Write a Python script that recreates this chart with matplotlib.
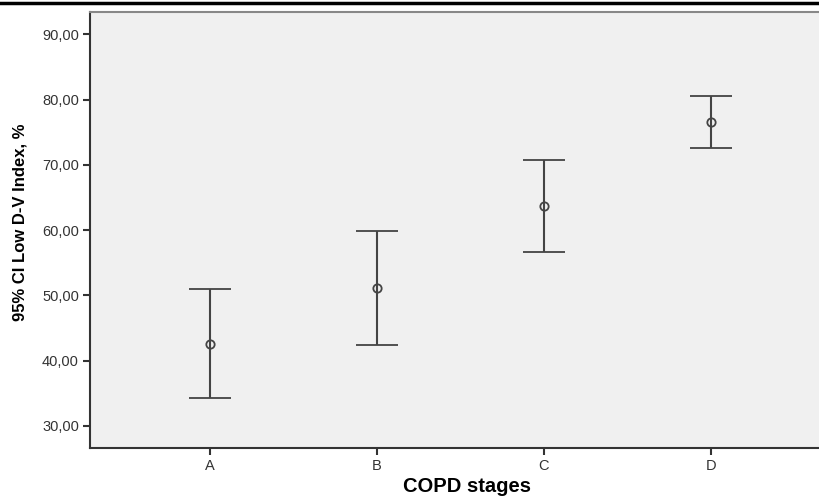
import matplotlib
matplotlib.use("Agg")
import matplotlib.pyplot as plt
from matplotlib.lines import Line2D
from matplotlib.ticker import FuncFormatter

categories = ["A", "B", "C", "D"]
means = [42.6, 51.1, 63.7, 76.5]
lower = [34.3, 42.4, 56.6, 72.5]
upper = [50.9, 59.8, 70.8, 80.5]
yticks = [30, 40, 50, 60, 70, 80, 90]

fig = plt.figure(figsize=(8.19, 4.97), dpi=100)
ax = fig.add_axes([0.110, 0.0986, 0.92, 0.877])
ax.set_facecolor("#f0f0f0")

x = list(range(len(categories)))
err_lo = [m - l for m, l in zip(means, lower)]
err_hi = [u - m for u, m in zip(upper, means)]
ax.errorbar(x, means, yerr=[err_lo, err_hi], fmt="o", color="#444444",
            mfc="none", mec="#444444", ms=6, mew=1.3, elinewidth=1.5,
            capsize=15, capthick=1.5)

ax.set_xlim(-0.72, 3.65 + (0.92 - 0.89) * 4.37 / 0.89)
ax.set_ylim(26.6, 93.4)
ax.set_xticks(x)
ax.set_xticklabels(categories)
ax.set_yticks(yticks)
ax.yaxis.set_major_formatter(FuncFormatter(lambda v, p: f"{v:.2f}".replace(".", ",")))

for s in ["left", "bottom"]:
    ax.spines[s].set_color("#333333")
    ax.spines[s].set_linewidth(1.5)
ax.spines["top"].set_color("#888888")
ax.spines["top"].set_linewidth(1.5)
ax.spines["right"].set_visible(False)

ax.tick_params(axis="both", colors="#333333", labelsize=10.5, length=5, width=1.5,
               labelcolor="#333333", pad=3)
for lab in ax.get_xticklabels() + ax.get_yticklabels():
    lab.set_family(["Liberation Sans", "DejaVu Sans"])

ax.set_xlabel("COPD stages", fontsize=14.5, fontweight="bold",
              family=["Liberation Sans", "DejaVu Sans"], labelpad=3)
ax.set_ylabel("95% CI Low D-V Index, %", fontsize=12, fontweight="bold",
              family=["Liberation Sans", "DejaVu Sans"])
ax.yaxis.set_label_coords(-0.083, 0.517)

fig.add_artist(Line2D([0, 1], [1 - 2.5 / 497, 1 - 2.5 / 497], transform=fig.transFigure,
                      color="black", lw=2.5))

fig.savefig("out.png", dpi=100)
